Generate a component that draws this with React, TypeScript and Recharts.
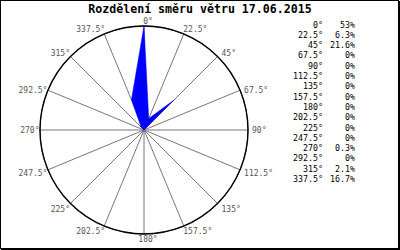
import React from 'react';
import { RadarChart, Radar, PolarGrid, PolarAngleAxis, PolarRadiusAxis } from 'recharts';

const directions = ['0°', '22.5°', '45°', '67.5°', '90°', '112.5°', '135°', '157.5°', '180°', '202.5°', '225°', '247.5°', '270°', '292.5°', '315°', '337.5°'];
const shares = [53, 6.3, 21.6, 0, 0, 0, 0, 0, 0, 0, 0, 0, 0.3, 0, 2.1, 16.7];
const title = 'Rozdělení směru větru 17.06.2015';
const radiusMax = 53;

const data = directions.map((d, i) => ({ dir: d, value: shares[i] }));

const CX = 144;
const CY = 130;
const R = 104;
const MONO = '"DejaVu Sans Mono", "Liberation Mono", monospace';

const AngleTick = (props: any) => {
  const label = props.payload?.value;
  const i = directions.indexOf(label);
  const a = ((90 - i * 22.5) * Math.PI) / 180;
  const c = Math.cos(a);
  const s = Math.sin(a);
  const px = CX + R * c;
  const py = CY - R * s;
  let dy = 0;
  if (s > 0.99) dy = -4.5;
  else if (s > 0.9) dy = -4;
  else if (s > 0.6) dy = -2.5;
  else if (s > 0.3) dy = 0.3;
  else if (s > -0.1) dy = 0.5;
  else if (s > -0.5) dy = 4;
  else if (s > -0.9) dy = 5.5;
  else dy = 5;
  let x = px;
  let anchor: 'start' | 'end' | 'middle' = 'middle';
  if (Math.abs(c) < 0.01) {
    x = CX + 4;
    anchor = 'middle';
  } else if (c > 0) {
    x = px + (Math.abs(s) > 0.9 ? -0.5 : 4);
    anchor = 'start';
  } else {
    x = px + (Math.abs(s) > 0.9 ? 1 : -0.5);
    anchor = 'end';
  }
  return (
    <text x={x} y={py + dy} textAnchor={anchor} dominantBaseline="central" fontFamily={MONO} fontSize={8} fill="#555">
      {label}
    </text>
  );
};

export default function App() {
  return (
    <div style={{ position: 'absolute', left: 0, top: 0, width: 400, height: 250, background: '#fff' }}>
      <RadarChart width={400} height={250} data={data} cx={CX} cy={CY} outerRadius={R} margin={{ top: 0, right: 0, bottom: 0, left: 0 }}>
        <PolarGrid gridType="circle" polarRadius={[R]} stroke="#777" strokeWidth={1} />
        <PolarGrid gridType="circle" polarRadius={[R]} radialLines={false} stroke="#000" strokeWidth={1.4} />
        <PolarRadiusAxis domain={[0, radiusMax]} tick={false} axisLine={false} tickLine={false} />
        <PolarAngleAxis dataKey="dir" tick={<AngleTick />} tickLine={false} axisLine={false} />
        <Radar dataKey="value" fill="#0000ff" fillOpacity={1} stroke="#0000ff" strokeWidth={0.5} dot={false} isAnimationActive={false} />
      </RadarChart>
      <svg width={400} height={250} style={{ position: 'absolute', left: 0, top: 0, pointerEvents: 'none' }}>
        <rect x={0.5} y={0.5} width={398} height={248} fill="none" stroke="#000" strokeWidth={1} />
        <line x1={399.5} y1={1} x2={399.5} y2={250} stroke="#000" />
        <line x1={1} y1={249.5} x2={400} y2={249.5} stroke="#000" />
        <text x={200} y={13} textAnchor="middle" fontFamily={MONO} fontWeight="bold" fontSize={11.6} fill="#000">
          {title}
        </text>
        {directions.map((d, i) => (
          <g key={d}>
            <text x={323} y={24.5 + i * 10.3} textAnchor="end" dominantBaseline="central" fontFamily={MONO} fontSize={8.3} fill="#000">
              {d}
            </text>
            <text x={355} y={24.5 + i * 10.3} textAnchor="end" dominantBaseline="central" fontFamily={MONO} fontSize={8.3} fill="#000">
              {`${shares[i]}%`}
            </text>
          </g>
        ))}
      </svg>
    </div>
  );
}
